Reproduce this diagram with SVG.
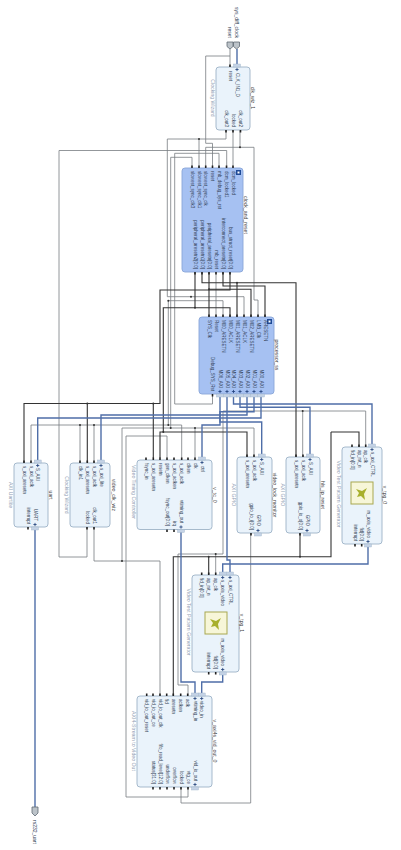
<svg xmlns="http://www.w3.org/2000/svg" width="401" height="850" viewBox="0 0 401 850">
<style>
text{font-family:"Liberation Sans",Arial,sans-serif;dominant-baseline:central}
.l{font-size:4.5px;fill:#2f3e55}
.e{text-anchor:end}
.n{font-size:5.2px;fill:#444}
.t{font-size:5.2px;fill:#8fa0b4;text-anchor:middle}
.m{text-anchor:middle}
.box{fill:#eaf3fb;stroke:#9db2c6;stroke-width:.9}
.hier{fill:#a6c1f2;stroke:#8aa6d8;stroke-width:.9}
.w{fill:none;stroke-linejoin:miter}
.g{stroke:#777c82;stroke-width:.8}
.d{stroke:#333;stroke-width:1.1}
.b{stroke:#4f6ea8;stroke-width:1.4}
.dot{fill:#333}
.p{stroke:#222;stroke-width:1.6}
.x{fill:#c5d3e6;stroke:#9db2c6;stroke-width:.4}
.plus{stroke:#1f3f7a;stroke-width:.8;fill:none}
.ext{fill:#bcc3c9;stroke:#5f6a73;stroke-width:.8}
</style>
<defs>
<g id="it"><rect class="x" x="-3.5" y="-3" width="7" height="3"/><path class="plus" d="M-1.6 2.5h3.2M0 .9v3.2"/></g>
<g id="ib"><rect class="x" x="-3.5" y="0" width="7" height="3"/><path class="plus" d="M-1.6-2.5h3.2M0-.9v-3.2"/></g>
<g id="icon"><rect width="22" height="22" fill="#f7f6d8" stroke="#a8a850" stroke-width="1"/><path d="M5 7l6 2 5-3-3 6 1 6-4-4-4 1 2-4z" fill="#a8b02c"/></g>
</defs>
<g id="connectors">
<path class="w b" d="M237 49V67M35 527V807"/>
<path class="w g" d="M230 49V67M230 56H205.7V143.3H212.5V168"/>
<path class="w g" d="M226 130V139H167.3V296.7H244V317M199 139V168"/>
<path class="w g" d="M233 130V168"/>
<path class="w g" d="M240 130V147.3H254V300H258V317M240 147.3H205.7V168"/>
<path class="w g" d="M87 557H59V150.5H226.7V168M87 527V557"/>
<path class="w g" d="M192 168V157.3H170.7V428M122 561V428H254V457M195 428V458"/>
<path class="w g" d="M219 168V153.3H174.7V404H212.5V394"/>
<path class="w g" d="M223 317V300.7H168.3V425M31 463V425H181.7V458M80 463V425M94 463V425"/>
<path class="w g" d="M94 527V561H160V696"/>
<path class="w g" d="M167 458V436H126V797H188V787"/>
<path class="w g" d="M223 411H365.7V447M302.7 411V457M223 411V554H178V685H188V696M215.7 554V575"/>
<path class="w g" d="M250.7 533V803H181V787"/>
<path class="w g" d="M216 272V317"/>
<path class="w d" d="M230 272V290H160V403.5H24V463M87.3 403.5V463M153.3 403.5V458"/>
<path class="w d" d="M202 272V282.7H296V457M237 282.7V317"/>
<path class="w d" d="M209 272V289.3H251V317M209 289.3V317"/>
<path class="w d" d="M223 272V286H265V317"/>
<path class="w d" d="M195 272V307.7H230V317M195 307.7H163.3V432M160 458V432H247V457"/>
<path class="w d" d="M300 533V556.7M331 432H359V447M331 432V556.7H173.3V696M208.7 556.7V575"/>
<path class="w b" d="M233.5 394V404H372V447"/>
<path class="w b" d="M240 394V407.3H310V457"/>
<path class="w b" d="M247 394V415H101V463"/>
<path class="w b" d="M261 394V418H37.7V463"/>
<path class="w b" d="M254 394V411.7H220V422H261.7V457"/>
<path class="w b" d="M220 394V425H202V458"/>
<path class="w b" d="M227 394V560H230V575"/>
<path class="w b" d="M368 544V564H222.7V575"/>
<path class="w b" d="M181 530V682H195V696"/>
<path class="w b" d="M222.7 672V682H201.7V696"/>
<g class="dot">
<circle cx="199" cy="139" r="1"/><circle cx="240" cy="147.3" r="1"/><circle cx="237" cy="282.7" r="1"/><circle cx="209" cy="289.3" r="1"/><circle cx="191" cy="296.7" r="1"/><circle cx="168.3" cy="300.7" r="1"/><circle cx="195" cy="307.7" r="1"/><circle cx="87.3" cy="403.5" r="1"/><circle cx="153.3" cy="403.5" r="1"/><circle cx="302.7" cy="411" r="1"/><circle cx="80" cy="425" r="1"/><circle cx="94" cy="425" r="1"/><circle cx="168.3" cy="425" r="1"/><circle cx="170.7" cy="428" r="1"/><circle cx="195" cy="428" r="1"/><circle cx="163.3" cy="432" r="1"/><circle cx="215.7" cy="554" r="1"/><circle cx="300" cy="556.7" r="1"/><circle cx="208.7" cy="556.7" r="1"/><circle cx="122" cy="561" r="1"/>
</g>
</g>
<g id="sys_diff_clock"><path class="ext" d="M233.5 42h6v4.5l-3 2.5-3-2.5z"/><text class="l" transform="translate(236.5 38) rotate(90)" text-anchor="end" style="font-size:5px">sys_diff_clock</text></g>
<g id="reset"><path class="ext" d="M227 42h6v4.5l-3 2.5-3-2.5z"/><text class="l" transform="translate(230 38) rotate(90)" text-anchor="end" style="font-size:5px">reset</text></g>
<g id="rs232_uart"><path class="ext" d="M32 807h6v6l-3 3-3-3z"/><text class="l" transform="translate(35 820) rotate(90)" style="font-size:5px">rs232_uart</text></g>
<g id="clk_wiz_1">
<rect class="box" x="216" y="67" width="34" height="63" rx="3"/>
<path class="p" d="M230 64.5V67M226 130V132.5M233 130V132.5M240.5 130V132.5"/><use href="#it" x="237" y="67"/>
<text class="l" transform="translate(230 71) rotate(90)">reset</text>
<text class="l" transform="translate(237 73) rotate(90)">CLK_IN1_D</text>
<text class="l e" transform="translate(226 127) rotate(90)">clk_out3</text>
<text class="l e" transform="translate(233 127) rotate(90)">locked</text>
<text class="l e" transform="translate(240.5 127) rotate(90)">clk_out2</text>
<text class="t" transform="translate(213 98) rotate(90)">Clocking Wizard</text>
<text class="n m" transform="translate(253 98) rotate(90)">clk_wiz_1</text>
</g>
<g id="clock_and_reset">
<rect class="hier" x="182" y="168" width="61" height="104" rx="3"/>
<rect x="236" y="170" width="5" height="5" fill="#1f4a96"/><rect x="237.5" y="171.5" width="2" height="2" fill="#fff"/>
<path class="p" d="M192 165.5V168M199 165.5V168M205.7 165.5V168M212.5 165.5V168M219 165.5V168M226.5 165.5V168M233 165.5V168M195 272V274.5M202 272V274.5M209 272V274.5M216 272V274.5M223 272V274.5M230 272V274.5"/>
<g class="l">
<text transform="translate(192 171) rotate(90)">slowest_sync_clk3</text>
<text transform="translate(199 171) rotate(90)">slowest_sync_clk1</text>
<text transform="translate(205.7 171) rotate(90)">slowest_sync_clk</text>
<text transform="translate(212.5 171) rotate(90)">reset</text>
<text transform="translate(219 171) rotate(90)">mb_debug_sys_rst</text>
<text transform="translate(226.5 171) rotate(90)">dcm_locked1</text>
<text transform="translate(233 171) rotate(90)">dcm_locked</text>
<text class="e" transform="translate(195 269) rotate(90)">peripheral_aresetn2[0:0]</text>
<text class="e" transform="translate(202 269) rotate(90)">peripheral_aresetn1[0:0]</text>
<text class="e" transform="translate(209 269) rotate(90)">peripheral_aresetn[0:0]</text>
<text class="e" transform="translate(216 269) rotate(90)">mb_reset</text>
<text class="e" transform="translate(223 269) rotate(90)">interconnect_aresetn[0:0]</text>
<text class="e" transform="translate(230 269) rotate(90)">bus_struct_reset[0:0]</text>
</g>
<text class="n m" transform="translate(246 215) rotate(90)">clock_and_reset</text>
</g>
<g id="processor">
<rect class="hier" x="199" y="317" width="75" height="77" rx="3"/>
<rect x="267" y="319" width="5" height="5" fill="#1f4a96"/><rect x="268.5" y="320.5" width="2" height="2" fill="#fff"/>
<path class="p" d="M209 314.5V317M216 314.5V317M223 314.5V317M230 314.5V317M237 314.5V317M244 314.5V317M251 314.5V317M258 314.5V317M265 314.5V317M212.5 394V396.5"/>
<use href="#ib" x="220" y="394"/><use href="#ib" x="227" y="394"/><use href="#ib" x="233.5" y="394"/><use href="#ib" x="240" y="394"/><use href="#ib" x="247" y="394"/><use href="#ib" x="254" y="394"/><use href="#ib" x="261" y="394"/>
<g class="l">
<text transform="translate(209 320) rotate(90)">SYS_Clk</text>
<text transform="translate(216 320) rotate(90)">Reset</text>
<text transform="translate(223 320) rotate(90)">M00_ARESETN</text>
<text transform="translate(230 320) rotate(90)">M00_ACLK</text>
<text transform="translate(237 320) rotate(90)">M01_ARESETN</text>
<text transform="translate(244 320) rotate(90)">M01_ACLK</text>
<text transform="translate(251 320) rotate(90)">M02_ARESETN</text>
<text transform="translate(258 320) rotate(90)">LMB_Clk</text>
<text transform="translate(265 320) rotate(90)">ARESETN</text>
<text class="e" transform="translate(212.5 391) rotate(90)">Debug_SYS_Rst</text>
<text class="e" transform="translate(220 388) rotate(90)">M06_AXI</text>
<text class="e" transform="translate(227 388) rotate(90)">M05_AXI</text>
<text class="e" transform="translate(233.5 388) rotate(90)">M04_AXI</text>
<text class="e" transform="translate(240 388) rotate(90)">M03_AXI</text>
<text class="e" transform="translate(247 388) rotate(90)">M02_AXI</text>
<text class="e" transform="translate(254 388) rotate(90)">M01_AXI</text>
<text class="e" transform="translate(261 388) rotate(90)">M00_AXI</text>
</g>
<text class="n m" transform="translate(277 355) rotate(90)">processor_ss</text>
</g>
<g id="uart">
<rect class="box" x="14" y="463" width="34" height="64" rx="3"/>
<path class="p" d="M24 460.5V463M31 460.5V463M28 527V529.5"/><use href="#it" x="37.7" y="463"/><use href="#ib" x="35" y="527"/>
<text class="l" transform="translate(24 466) rotate(90)">s_axi_aresetn</text>
<text class="l" transform="translate(31 466) rotate(90)">s_axi_aclk</text>
<text class="l" transform="translate(37.7 468) rotate(90)">S_AXI</text>
<text class="l e" transform="translate(28 524) rotate(90)">interrupt</text>
<text class="l e" transform="translate(35 521) rotate(90)">UART</text>
<text class="t" transform="translate(11 495) rotate(90)">AXI Uartlite</text>
<text class="n m" transform="translate(51 495) rotate(90)">uart</text>
</g>
<g id="video_clk_wiz">
<rect class="box" x="70" y="463" width="40" height="64" rx="3"/>
<path class="p" d="M80 460.5V463M87.3 460.5V463M94 460.5V463M87 527V529.5M94 527V529.5"/><use href="#it" x="101" y="463"/>
<text class="l" transform="translate(80 466) rotate(90)">clk_in1</text>
<text class="l" transform="translate(87.3 466) rotate(90)">s_axi_aresetn</text>
<text class="l" transform="translate(94 466) rotate(90)">s_axi_aclk</text>
<text class="l" transform="translate(101 468) rotate(90)">s_axi_lite</text>
<text class="l e" transform="translate(87 524) rotate(90)">locked</text>
<text class="l e" transform="translate(94 524) rotate(90)">clk_out1</text>
<text class="t" transform="translate(67 495) rotate(90)">Clocking Wizard</text>
<text class="n m" transform="translate(114 495) rotate(90)">video_clk_wiz</text>
</g>
<g id="v_tc_0">
<rect class="box" x="137" y="460" width="75" height="69.500" rx="3"/>
<path class="p" d="M146 457.500V460M153.300 457.500V460M160 457.500V460M167 457.500V460M174 457.500V460M181.700 457.500V460M188 457.500V460M195 457.500V460M167 529.500V532M174 529.500V532"/><use href="#it" x="202" y="460"/><use href="#ib" x="181" y="529.500"/>
<text class="l" transform="translate(146 463) rotate(90)">fsync_in</text>
<text class="l" transform="translate(153.300 463) rotate(90)">s_axi_aresetn</text>
<text class="l" transform="translate(160 463) rotate(90)">resetn</text>
<text class="l" transform="translate(167 463) rotate(90)">gen_clken</text>
<text class="l" transform="translate(174 463) rotate(90)">s_axi_aclken</text>
<text class="l" transform="translate(181.700 463) rotate(90)">s_axi_aclk</text>
<text class="l" transform="translate(188 463) rotate(90)">clken</text>
<text class="l" transform="translate(195 463) rotate(90)">clk</text>
<text class="l" transform="translate(202 466) rotate(90)">ctrl</text>
<text class="l e" transform="translate(167 526) rotate(90)">fsync_out[0:0]</text>
<text class="l e" transform="translate(174 526) rotate(90)">irq</text>
<text class="l e" transform="translate(181 523) rotate(90)">vtiming_out</text>
<text class="t" transform="translate(134 492) rotate(90)">Video Timing Controller</text>
<text class="n m" transform="translate(215 495) rotate(90)">v_tc_0</text>
</g>
<g id="video_lock_monitor">
<rect class="box" x="237" y="457" width="35" height="76" rx="3"/>
<path class="p" d="M247 454.500V457M254 454.500V457M251 533V535.500"/><use href="#it" x="261.700" y="457"/><use href="#ib" x="258" y="533"/>
<text class="l" transform="translate(247 460) rotate(90)">s_axi_aresetn</text>
<text class="l" transform="translate(254 460) rotate(90)">s_axi_aclk</text>
<text class="l" transform="translate(261.700 462) rotate(90)">S_AXI</text>
<text class="l e" transform="translate(251 530) rotate(90)">gpio_io_i[0:0]</text>
<text class="l e" transform="translate(258 526) rotate(90)">GPIO</text>
<text class="t" transform="translate(234 495) rotate(90)">AXI GPIO</text>
<text class="n m" transform="translate(275 495) rotate(90)">video_lock_monitor</text>
</g>
<g id="hls_ip_reset">
<rect class="box" x="286" y="457" width="34" height="76" rx="3"/>
<path class="p" d="M296 454.500V457M303 454.500V457M300 533V535.500"/><use href="#it" x="310" y="457"/><use href="#ib" x="307" y="533"/>
<text class="l" transform="translate(296 460) rotate(90)">s_axi_aresetn</text>
<text class="l" transform="translate(303 460) rotate(90)">s_axi_aclk</text>
<text class="l" transform="translate(310 462) rotate(90)">S_AXI</text>
<text class="l e" transform="translate(300 530) rotate(90)">gpio_io_o[0:0]</text>
<text class="l e" transform="translate(307 526) rotate(90)">GPIO</text>
<text class="t" transform="translate(283 495) rotate(90)">AXI GPIO</text>
<text class="n m" transform="translate(323 495) rotate(90)">hls_ip_reset</text>
</g>
<g id="v_tpg_0">
<rect class="box" x="342" y="447" width="40" height="97" rx="3"/>
<path class="p" d="M352 444.500V447M359 444.500V447M365.700 444.500V447M355 544V546.500M361.700 544V546.500"/><use href="#it" x="372" y="447"/><use href="#ib" x="368" y="544"/>
<use href="#icon" x="351" y="482"/>
<text class="l" transform="translate(352 450) rotate(90)">fid_in[0:0]</text>
<text class="l" transform="translate(359 450) rotate(90)">ap_rst_n</text>
<text class="l" transform="translate(365.700 450) rotate(90)">ap_clk</text>
<text class="l" transform="translate(372 452) rotate(90)">s_axi_CTRL</text>
<text class="l e" transform="translate(355 541) rotate(90)">interrupt</text>
<text class="l e" transform="translate(361.700 541) rotate(90)">fid[0:0]</text>
<text class="l e" transform="translate(368 538) rotate(90)">m_axis_video</text>
<text class="t" transform="translate(339 494) rotate(90)">Video Test Pattern Generator</text>
<text class="n m" transform="translate(385 495) rotate(90)">v_tpg_0</text>
</g>
<g id="v_tpg_1">
<rect class="box" x="192" y="575" width="47" height="97" rx="3"/>
<path class="p" d="M201.700 572.500V575M208.700 572.500V575M215.700 572.500V575M208.700 672V674.500M215.700 672V674.500"/><use href="#it" x="222.700" y="575"/><use href="#it" x="230" y="575"/><use href="#ib" x="222.700" y="672"/>
<use href="#icon" x="205" y="612"/>
<text class="l" transform="translate(201.700 578) rotate(90)">fid_in[0:0]</text>
<text class="l" transform="translate(208.700 578) rotate(90)">ap_rst_n</text>
<text class="l" transform="translate(215.700 578) rotate(90)">ap_clk</text>
<text class="l" transform="translate(222.700 580) rotate(90)">s_axis_video</text>
<text class="l" transform="translate(230 580) rotate(90)">s_axi_CTRL</text>
<text class="l e" transform="translate(208.700 669) rotate(90)">interrupt</text>
<text class="l e" transform="translate(215.700 669) rotate(90)">fid[0:0]</text>
<text class="l e" transform="translate(222.700 666) rotate(90)">m_axis_video</text>
<text class="t" transform="translate(189 622) rotate(90)">Video Test Pattern Generator</text>
<text class="n m" transform="translate(242 623) rotate(90)">v_tpg_1</text>
</g>
<g id="v_axi4s_vid_out_0">
<rect class="box" x="137" y="696" width="75" height="91" rx="3"/>
<path class="p" d="M146.700 693.500V696M153 693.500V696M160 693.500V696M166.700 693.500V696M173.300 693.500V696M180.700 693.500V696M187.700 693.500V696M153 787V789.500M160 787V789.500M167 787V789.500M174 787V789.500M181 787V789.500M188 787V789.500"/><use href="#it" x="195" y="696"/><use href="#it" x="201.700" y="696"/><use href="#ib" x="195" y="787"/>
<text class="l" transform="translate(146.700 699) rotate(90)">vid_io_out_reset</text>
<text class="l" transform="translate(153 699) rotate(90)">vid_io_out_ce</text>
<text class="l" transform="translate(160 699) rotate(90)">vid_io_out_clk</text>
<text class="l" transform="translate(166.700 699) rotate(90)">fid</text>
<text class="l" transform="translate(173.300 699) rotate(90)">aresetn</text>
<text class="l" transform="translate(180.700 699) rotate(90)">aclken</text>
<text class="l" transform="translate(187.700 699) rotate(90)">aclk</text>
<text class="l" transform="translate(195 701) rotate(90)">vtiming_in</text>
<text class="l" transform="translate(201.700 701) rotate(90)">video_in</text>
<text class="l e" transform="translate(153 784) rotate(90)">status[31:0]</text>
<text class="l e" transform="translate(160 784) rotate(90)">fifo_read_level[12:0]</text>
<text class="l e" transform="translate(167 784) rotate(90)">underflow</text>
<text class="l e" transform="translate(174 784) rotate(90)">overflow</text>
<text class="l e" transform="translate(181 784) rotate(90)">locked</text>
<text class="l e" transform="translate(188 784) rotate(90)">vtg_ce</text>
<text class="l e" transform="translate(195 781) rotate(90)">vid_io_out</text>
<text class="t" transform="translate(134 741) rotate(90)">AXI4-Stream to Video Out</text>
<text class="n m" transform="translate(215 741) rotate(90)">v_axi4s_vid_out_0</text>
</g>
</svg>
